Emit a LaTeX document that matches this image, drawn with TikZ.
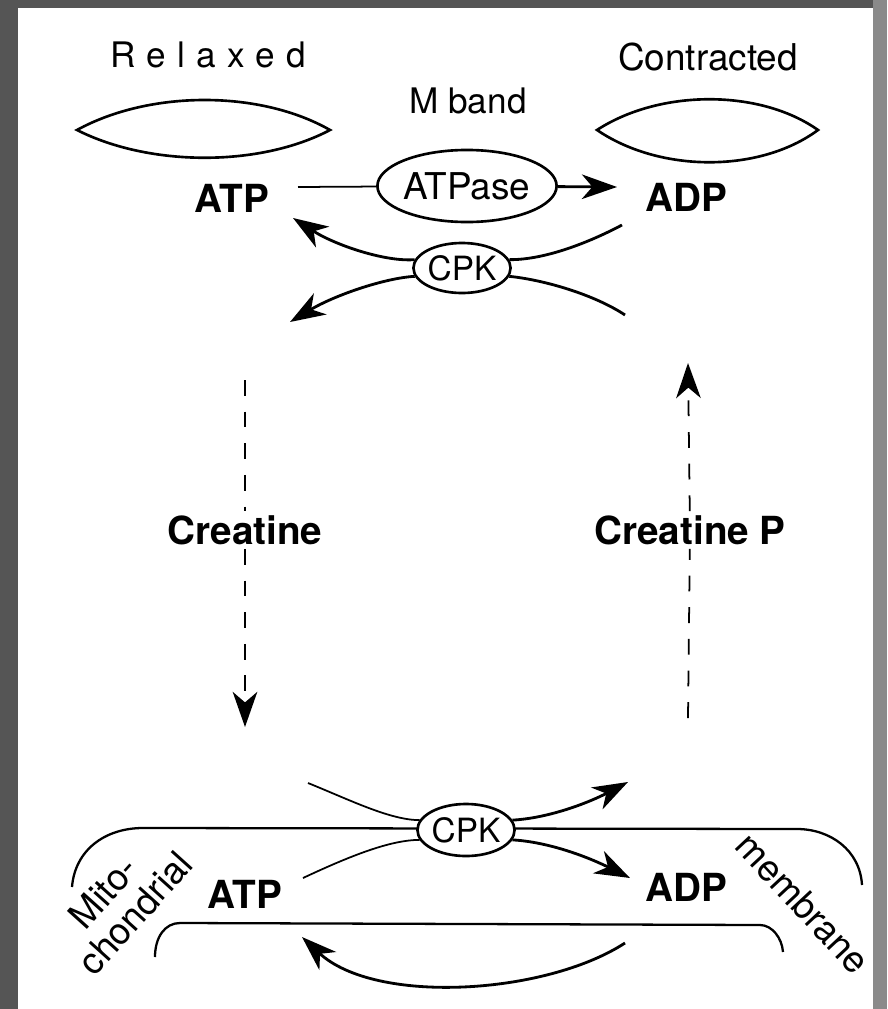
\documentclass[tikz,border=0pt]{standalone}
\usepackage{fontspec}
\setmainfont{TeX Gyre Heros}
\usetikzlibrary{arrows.meta,shapes.geometric}
\definecolor{slidegray}{HTML}{555555}
\definecolor{slideedge}{HTML}{8A8A8A}
\begin{document}
\begin{tikzpicture}[x=0.01cm,y=-0.01cm,>={Stealth[length=10pt,width=7pt,inset=3pt]},
    chem/.style={font=\fontsize{11}{13}\selectfont\bfseries,inner sep=1pt},
    caption/.style={font=\fontsize{10.5}{12}\selectfont,inner sep=1pt},
    enzyme/.style={ellipse,draw,line width=0.75pt,fill=white,inner sep=0pt,font=\fontsize{9.5}{11}\selectfont},
    thinline/.style={line width=0.5pt},
    flow/.style={line width=0.8pt},
    lens/.style={line width=0.75pt}]
    % slide frame
    \fill[slidegray] (0,0) rectangle (887,1009);
    \fill[slideedge] (873,0) rectangle (887,1009);
    \fill[white] (18,8) rectangle (873,1009);
    \useasboundingbox (0,0) rectangle (887,1009);

    % sarcomeres
    \node[caption,font=\fontsize{10}{12}\selectfont\addfontfeature{LetterSpace=32}] (relaxed) at (208,55) {Relaxed};
    \node[caption] (contracted) at (708,57) {Contracted};
    \draw[lens] (77,130) .. controls (150,90) and (260,90) .. (330,130) .. controls (260,167) and (150,167) .. cycle;
    \draw[lens] (597,130) .. controls (660,89) and (760,89) .. (818,130) .. controls (760,173) and (660,173) .. cycle;

    % mitochondrial membrane
    \draw[line width=0.65pt] (72,887) .. controls (75,850) and (105,828) .. (143,828) -- (797,829)
        .. controls (830,829) and (860,850) .. (862,885);
    \draw[line width=0.65pt] (155,957) .. controls (155,937) and (165,923) .. (180,923) -- (760,925)
        .. controls (772,925) and (782,938) .. (783,952);

    % M band
    \node[caption,font=\fontsize{10}{12}\selectfont] (mband) at (468,101) {M band};
    \node[chem] (atpTop) at (232,198) {ATP};
    \node[chem] (adpTop) at (686,197) {ADP};
    \node[enzyme,minimum width=1.39cm,minimum height=0.72cm,font=\fontsize{10.5}{12}\selectfont] (atpase) at (467,186) {ATPase};
    \node[enzyme,minimum width=0.91cm,minimum height=0.50cm] (cpkTop) at (462,268) {CPK};
    \coordinate (mbIn) at (298,187);
    \coordinate (mbOut) at (617,187);
    \draw[thinline] (mbIn) -- (atpase);
    \draw[flow,->] (atpase) -- (mbOut);

    \coordinate (upR) at (622,225);
    \coordinate (upL) at (293,218);
    \coordinate (loR) at (625,315);
    \coordinate (loL) at (290,322);
    \draw[flow] (upR) .. controls (590,242) and (545,260) .. (cpkTop.10);
    \draw[flow,->] (cpkTop.170) .. controls (385,262) and (335,245) .. (upL);
    \draw[flow,->] (cpkTop.190) .. controls (385,278) and (335,295) .. (loL);
    \draw[flow] (cpkTop.-10) .. controls (545,280) and (595,295) .. (loR);

    % creatine shuttle
    \node[chem] (creatine) at (245,530) {Creatine};
    \node[chem] (creatineP) at (690,530) {Creatine P};
    \coordinate (crTop) at (245,380);
    \coordinate (crBot) at (245,727);
    \coordinate (cpTop) at (688,363);
    \coordinate (cpBot) at (688,718);
    \draw[thinline,dash pattern=on 4.5pt off 4.5pt] (crTop) -- (creatine);
    \draw[thinline,dash pattern=on 4.5pt off 4.5pt,->] (creatine) -- (crBot);
    \draw[thinline,dash pattern=on 4.5pt off 4.5pt] (cpBot) -- (creatineP);
    \draw[thinline,dash pattern=on 4.5pt off 4.5pt,->] (creatineP) -- (cpTop);

    % mitochondrion
    \node[enzyme,minimum width=0.88cm,minimum height=0.52cm] (cpkMito) at (466,830) {CPK};
    \node[chem] (atpMito) at (245,894) {ATP};
    \node[chem] (adpMito) at (686,887) {ADP};
    \node[caption,rotate=48,inner sep=0pt] (mitoA) at (103,892) {Mito-};
    \node[caption,rotate=48,inner sep=0pt] (mitoB) at (135,913) {chondrial};
    \node[caption,rotate=-47,inner sep=0pt] (membrane) at (803,903) {membrane};

    \coordinate (mUpL) at (308,783);
    \coordinate (mUpR) at (628,782);
    \coordinate (mLoL) at (303,878);
    \coordinate (mLoR) at (630,878);
    \draw[thinline] (mUpL) .. controls (350,800) and (390,820) .. (cpkMito.168);
    \draw[flow,->] (cpkMito.12) .. controls (550,818) and (590,802) .. (mUpR);
    \draw[thinline] (mLoL) .. controls (350,856) and (390,840) .. (cpkMito.192);
    \draw[flow,->] (cpkMito.-12) .. controls (550,842) and (590,858) .. (mLoR);

    \coordinate (retR) at (625,943);
    \coordinate (retL) at (302,937);
    \draw[flow,->] (retR) .. controls (545,995) and (375,1005) .. (retL);
\end{tikzpicture}
\end{document}
